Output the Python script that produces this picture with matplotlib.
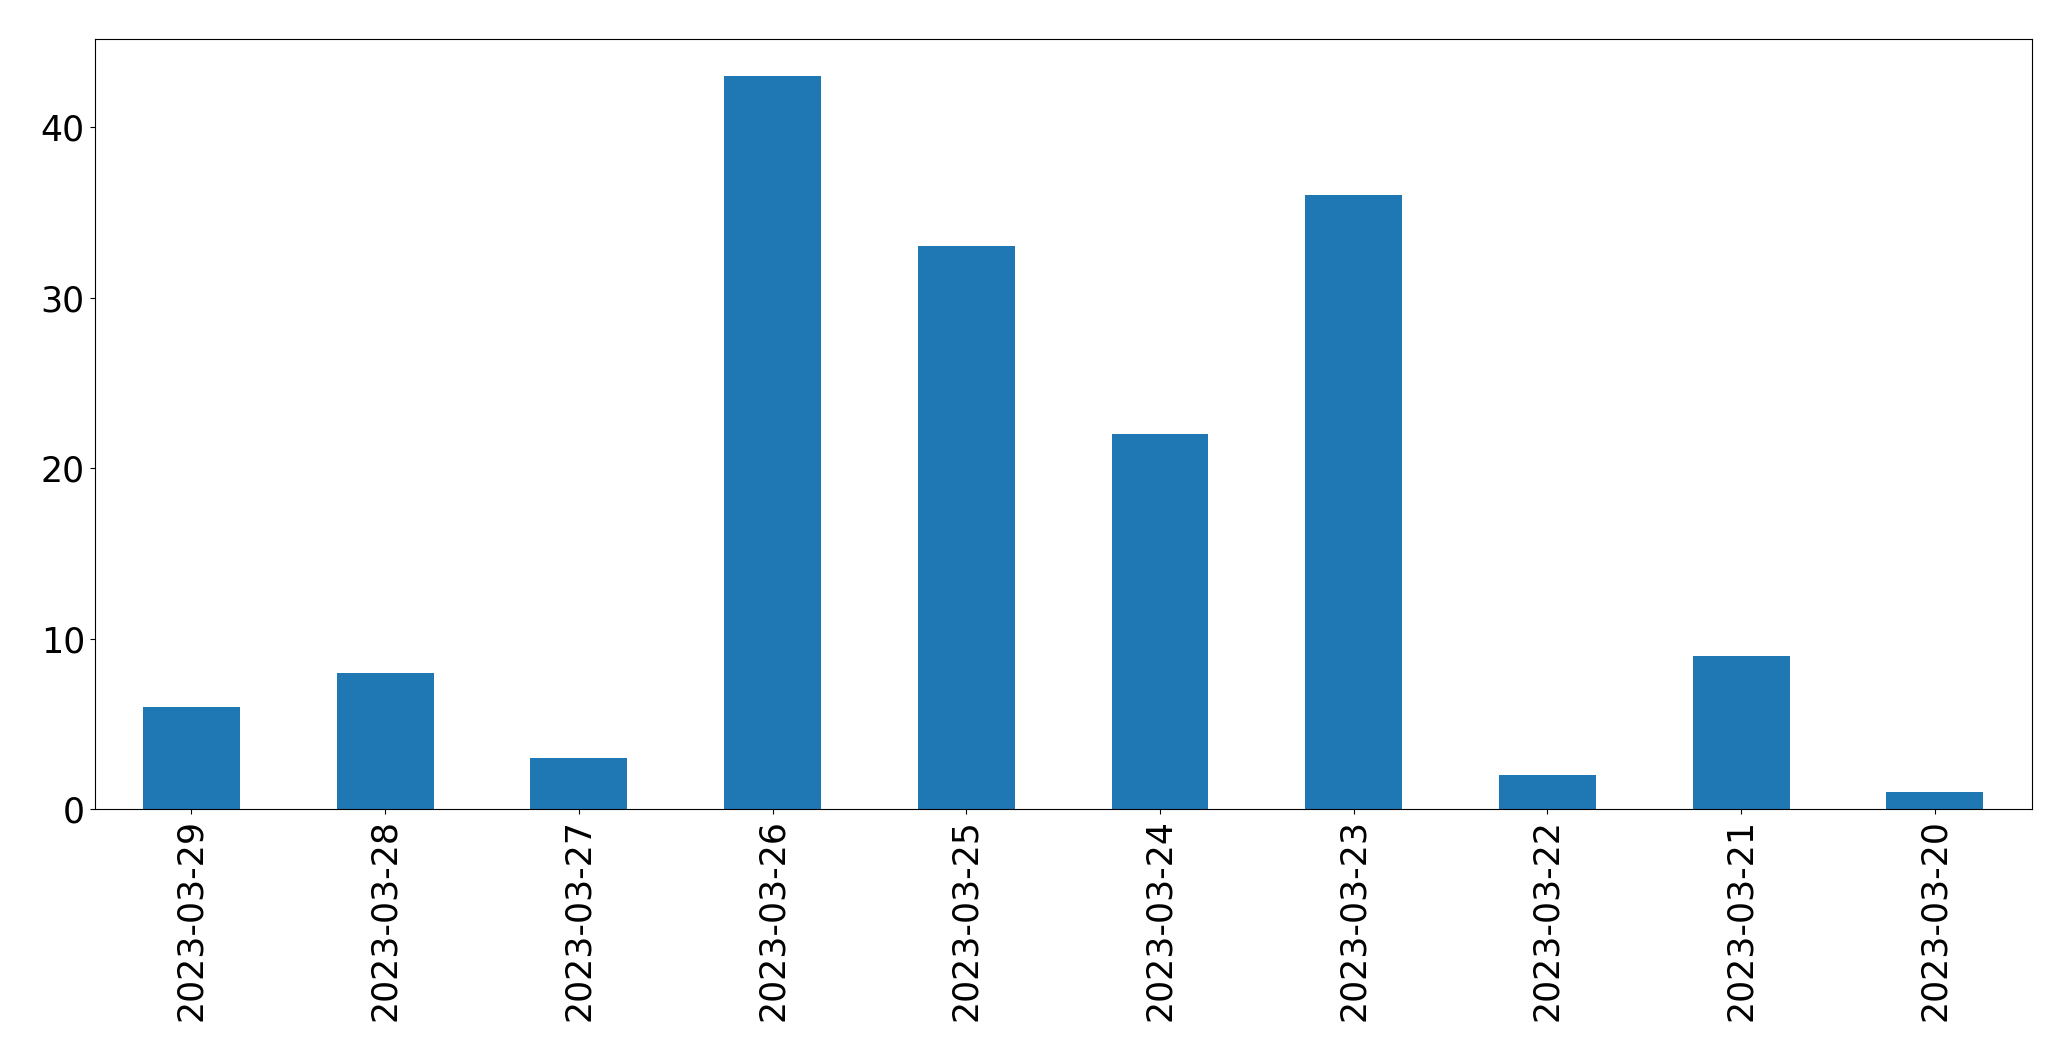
import matplotlib
matplotlib.use("Agg")
from matplotlib import pyplot as plt
import numpy as np

dates = ['2023-03-29', '2023-03-28', '2023-03-27', '2023-03-26', '2023-03-25',
         '2023-03-24', '2023-03-23', '2023-03-22', '2023-03-21', '2023-03-20']
counts = [6, 8, 3, 43, 33, 22, 36, 2, 9, 1]

fig = plt.figure(figsize=(20.71, 10.61), dpi=100)
ax = fig.add_axes([0.0457, 0.2372, 0.981 - 0.0457, 0.963 - 0.2372])
x = np.arange(len(dates))
ax.bar(x, counts, width=0.5, color='#1f77b4')
ax.set_xlim(-0.5, len(dates) - 0.5)
ax.set_ylim(0, max(counts) * 1.05)
ax.set_xticks(x)
ax.set_xticklabels(dates, rotation=90)
ax.set_yticks([0, 10, 20, 30, 40])
ax.tick_params(labelsize=25)

fig.savefig("out.png", dpi=100)
